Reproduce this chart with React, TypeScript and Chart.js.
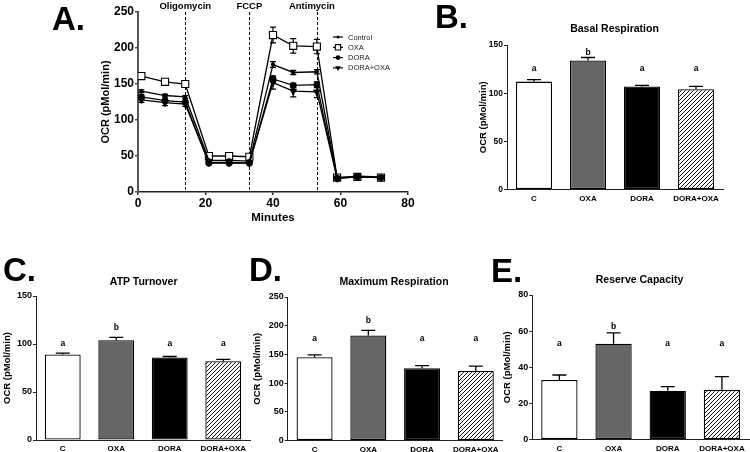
import React, { useEffect, useRef } from 'react';
import { Chart, registerables } from 'chart.js';

Chart.register(...registerables);

const FONT = '"Liberation Sans", Arial, Helvetica, sans-serif';
Chart.defaults.font.family = FONT;
Chart.defaults.color = '#000';

// ---------- Panel A data ----------
const minutes = [1, 8, 14, 21, 27, 33, 40, 46, 53, 59, 65, 72];
const seriesNames = ['Control', 'OXA', 'DORA', 'DORA+OXA'];
const controlOCR = [140, 134, 132, 44, 44, 43, 177, 166, 167, 20, 22, 21];
const controlErr = [2, 2, 2, 1, 1, 1, 4, 3, 3, 1, 1, 1];
const oxaOCR = [161, 153, 150, 50, 50, 49, 218, 203, 202, 20, 21, 20];
const oxaErr = [4, 3, 3, 1, 1, 1, 11, 10, 10, 1, 1, 1];
const doraOCR = [132, 127, 125, 40, 40, 40, 157, 148, 149, 19, 21, 20];
const doraErr = [3, 3, 2, 1, 1, 1, 4, 3, 4, 1, 1, 1];
const doraOxaOCR = [128, 124, 122, 41, 41, 40, 152, 140, 139, 19, 21, 20];
const doraOxaErr = [3.5, 4, 3, 1, 1, 1, 9, 8, 8, 1, 1, 1];
const injectionMinutes = [14, 33, 53];
const injectionLabels = ['Oligomycin', 'FCCP', 'Antimycin'];
const minuteMax = 80;
const minuteStep = 20;
const ocrMaxA = 250;
const ocrStepA = 50;

// ---------- Bar panels data ----------
const groups = ['C', 'OXA', 'DORA', 'DORA+OXA'];

const basalValues = [112, 134, 107, 104];
const basalErrors = [2, 3, 1, 3];
const basalLetters = ['a', 'b', 'a', 'a'];
const basalLetterY = [125, 142, 125, 125];

const atpValues = [89, 104, 86, 82];
const atpErrors = [1.5, 3, 1, 2];
const atpLetters = ['a', 'b', 'a', 'a'];
const atpLetterY = [100.5, 117, 100.5, 100.5];

const maxValues = [145, 183, 126, 121];
const maxErrors = [4, 9, 4.5, 8.5];
const maxLetters = ['a', 'b', 'a', 'a'];
const maxLetterY = [177, 209, 177, 177];

const reserveValues = [33, 53, 27, 27.5];
const reserveErrors = [2.7, 6, 2.3, 7.3];
const reserveLetters = ['a', 'b', 'a', 'a'];
const reserveLetterY = [53.2, 62.3, 53.2, 53.2];

// ---------- helpers ----------
type Style = 'circle' | 'rect' | 'triangleDown';
function drawMarker(ctx: CanvasRenderingContext2D, style: Style, x: number, y: number, r: number) {
  ctx.save();
  ctx.beginPath();
  if (style === 'circle') {
    ctx.arc(x, y, r, 0, Math.PI * 2);
    ctx.fillStyle = '#000';
    ctx.fill();
  } else if (style === 'rect') {
    const s = r * Math.SQRT1_2;
    ctx.rect(x - s, y - s, 2 * s, 2 * s);
    ctx.fillStyle = '#fff';
    ctx.fill();
    ctx.lineWidth = 1.1;
    ctx.strokeStyle = '#000';
    ctx.stroke();
  } else {
    ctx.moveTo(x - r * 0.87, y - r * 0.5);
    ctx.lineTo(x + r * 0.87, y - r * 0.5);
    ctx.lineTo(x, y + r);
    ctx.closePath();
    ctx.fillStyle = '#000';
    ctx.fill();
  }
  ctx.restore();
}

function makeHatch(): CanvasPattern | string {
  const c = document.createElement('canvas');
  c.width = 4;
  c.height = 4;
  const g = c.getContext('2d');
  if (!g) return '#888';
  g.fillStyle = '#fff';
  g.fillRect(0, 0, 4, 4);
  g.strokeStyle = '#111';
  g.lineWidth = 1;
  g.beginPath();
  g.moveTo(0, 4); g.lineTo(4, 0);
  g.moveTo(-1, 1); g.lineTo(1, -1);
  g.moveTo(3, 5); g.lineTo(5, 3);
  g.stroke();
  const p = g.createPattern(c, 'repeat');
  return p || '#888';
}

// ---------- Panel A ----------
const A_W = 420;
const A_H = 230;

function PanelA() {
  const ref = useRef<HTMLCanvasElement | null>(null);
  useEffect(() => {
    const canvas = ref.current;
    if (!canvas) return;
    const values = [controlOCR, oxaOCR, doraOCR, doraOxaOCR];
    const errors = [controlErr, oxaErr, doraErr, doraOxaErr];
    const styles: Style[] = ['circle', 'rect', 'circle', 'triangleDown'];
    const radii = [2, 5, 3.2, 4.2];
    const chartStyles = ['circle', 'rect', 'circle', 'triangle'];
    const drawOrder = [2, 3, 0, 1];

    const extras = {
      id: 'panelAExtras',
      beforeDatasetsDraw(chart: any) {
        const { ctx, chartArea, scales } = chart;
        const x = scales.x;
        const y = scales.y;
        ctx.save();
        ctx.setLineDash([3, 2]);
        ctx.strokeStyle = '#000';
        ctx.lineWidth = 1;
        injectionMinutes.forEach((m) => {
          const px = Math.round(x.getPixelForValue(m)) + 0.5;
          ctx.beginPath();
          ctx.moveTo(px, chartArea.top);
          ctx.lineTo(px, chartArea.bottom);
          ctx.stroke();
        });
        ctx.setLineDash([]);
        ctx.lineWidth = 1.2;
        values.forEach((vals, di) => {
          vals.forEach((v, i) => {
            const e = errors[di][i];
            const px = x.getPixelForValue(minutes[i]);
            const y1 = y.getPixelForValue(v + e);
            const y2 = y.getPixelForValue(v - e);
            ctx.beginPath();
            ctx.moveTo(px, y1);
            ctx.lineTo(px, y2);
            ctx.moveTo(px - 3, y1);
            ctx.lineTo(px + 3, y1);
            ctx.moveTo(px - 3, y2);
            ctx.lineTo(px + 3, y2);
            ctx.stroke();
          });
        });
        ctx.restore();
      },
      afterDraw(chart: any) {
        const { ctx, scales } = chart;
        const x = scales.x;
        ctx.save();
        ctx.fillStyle = '#000';
        ctx.font = `bold 9.5px ${FONT}`;
        ctx.textAlign = 'center';
        ctx.textBaseline = 'middle';
        const nudges = [0, 0, -5];
        injectionMinutes.forEach((m, i) => {
          ctx.fillText(injectionLabels[i], x.getPixelForValue(m) + nudges[i], 6);
        });
        // legend
        const ly0 = 37;
        const lgap = 10.3;
        ctx.font = `7.5px ${FONT}`;
        ctx.textAlign = 'left';
        seriesNames.forEach((name, i) => {
          const yy = ly0 + i * lgap;
          ctx.strokeStyle = '#000';
          ctx.lineWidth = 1.2;
          ctx.beginPath();
          ctx.moveTo(333, yy);
          ctx.lineTo(343, yy);
          ctx.stroke();
          drawMarker(ctx, styles[i], 338, yy, radii[i] * 0.75);
          ctx.fillStyle = '#222';
          ctx.fillText(name, 348, yy + 0.5);
        });
        ctx.restore();
      },
    };

    const chart = new Chart(canvas, {
      type: 'line',
      data: {
        datasets: values.map((vals, di) => ({
          label: seriesNames[di],
          data: vals.map((v, i) => ({ x: minutes[i], y: v })),
          order: drawOrder[di],
          borderColor: '#000',
          borderWidth: 1.3,
          pointStyle: chartStyles[di] as any,
          pointRadius: radii[di],
          pointRotation: di === 3 ? 180 : 0,
          pointBackgroundColor: di === 1 ? '#fff' : '#000',
          pointBorderColor: '#000',
          pointBorderWidth: di === 1 ? 1.1 : 0.5,
          tension: 0,
          fill: false,
        })),
      },
      options: {
        responsive: false,
        animation: false,
        devicePixelRatio: 1,
        layout: { autoPadding: false, padding: { left: 0, top: 12, right: A_W - 408, bottom: 0 } } as any,
        plugins: { legend: { display: false }, tooltip: { enabled: false }, title: { display: false } },
        scales: {
          x: {
            type: 'linear',
            min: 0,
            max: minuteMax,
            ticks: { stepSize: minuteStep, font: { size: 12, weight: 'bold' }, color: '#000', padding: 1 },
            grid: { drawOnChartArea: false, drawTicks: true, tickLength: 3, color: '#222', lineWidth: 1.5 },
            border: { display: true, color: '#222', width: 1.5 },
            title: { display: true, text: 'Minutes', font: { size: 11.5, weight: 'bold' }, color: '#000', padding: { top: 0, bottom: 5.5 } },
            afterFit: (s: any) => { s.height = A_H - 192; },
          },
          y: {
            min: 0,
            max: ocrMaxA,
            ticks: { stepSize: ocrStepA, font: { size: 12, weight: 'bold' }, color: '#000', padding: 1 },
            grid: { drawOnChartArea: false, drawTicks: true, tickLength: 3, color: '#444', lineWidth: 1.5 },
            border: { display: true, color: '#555', width: 2 },
            title: { display: true, text: 'OCR (pMol/min)', font: { size: 11, weight: 'bold' }, color: '#000', padding: { top: 99.4, bottom: 0 } },
            afterFit: (s: any) => { s.width = 138; },
          },
        },
      } as any,
      plugins: [extras],
    });
    return () => chart.destroy();
  }, []);
  return (
    <canvas
      ref={ref}
      width={A_W}
      height={A_H}
      style={{ position: 'absolute', left: 0, top: 0, width: A_W, height: A_H }}
    />
  );
}

// ---------- Bar panels ----------
type BarPanelProps = {
  left: number;
  top: number;
  width: number;
  height: number;
  area: { left: number; top: number; right: number; bottom: number };
  yMax: number;
  yStep: number;
  values: number[];
  errors: number[];
  letters: string[];
  letterY: number[];
  yTitleX: number;
  tickSize: number;
};

function BarPanel(p: BarPanelProps) {
  const ref = useRef<HTMLCanvasElement | null>(null);
  useEffect(() => {
    const canvas = ref.current;
    if (!canvas) return;
    const hatch = makeHatch();
    const extras = {
      id: 'barExtras',
      afterDatasetsDraw(chart: any) {
        const { ctx, scales } = chart;
        const y = scales.y;
        const meta = chart.getDatasetMeta(0);
        ctx.save();
        ctx.strokeStyle = '#000';
        ctx.lineWidth = 1.3;
        meta.data.forEach((bar: any, i: number) => {
          const top = y.getPixelForValue(p.values[i]);
          const et = y.getPixelForValue(p.values[i] + p.errors[i]);
          ctx.beginPath();
          ctx.moveTo(bar.x, top);
          ctx.lineTo(bar.x, et);
          ctx.moveTo(bar.x - 7, et);
          ctx.lineTo(bar.x + 7, et);
          ctx.stroke();
        });
        ctx.fillStyle = '#000';
        ctx.font = `bold 8.5px ${FONT}`;
        ctx.textAlign = 'center';
        ctx.textBaseline = 'middle';
        meta.data.forEach((bar: any, i: number) => {
          ctx.fillText(p.letters[i], bar.x, y.getPixelForValue(p.letterY[i]));
        });
        ctx.restore();
      },
    };
    const chart = new Chart(canvas, {
      type: 'bar',
      data: {
        labels: groups,
        datasets: [
          {
            data: p.values,
            backgroundColor: ['#ffffff', '#666666', '#000000', hatch] as any,
            borderColor: '#000',
            borderWidth: 1.3,
            borderSkipped: false,
            barPercentage: 0.67,
            categoryPercentage: 1,
          },
        ],
      },
      options: {
        responsive: false,
        animation: false,
        devicePixelRatio: 1,
        layout: {
          autoPadding: false,
          padding: { left: 0, top: p.area.top, right: p.width - p.area.right, bottom: 0 },
        } as any,
        plugins: { legend: { display: false }, tooltip: { enabled: false }, title: { display: false } },
        scales: {
          x: {
            ticks: { font: { size: 8, weight: 'bold' }, color: '#000', padding: 4, maxRotation: 0, autoSkip: false },
            grid: { display: true, drawOnChartArea: false, drawTicks: false },
            border: { display: true, color: '#222', width: 1 },
            afterFit: (s: any) => { s.height = p.height - p.area.bottom; },
          },
          y: {
            min: 0,
            max: p.yMax,
            ticks: { stepSize: p.yStep, font: { size: p.tickSize, weight: 'bold' }, color: '#000', padding: 1 },
            grid: { drawOnChartArea: false, drawTicks: true, tickLength: 3, color: '#222', lineWidth: 1 },
            border: { display: true, color: '#222', width: 1 },
            title: {
              display: true,
              text: 'OCR (pMol/min)',
              font: { size: 9.5, weight: 'bold' },
              color: '#000',
              padding: { top: p.yTitleX - 5.7, bottom: 0 },
            },
            afterFit: (s: any) => { s.width = p.area.left; },
          },
        },
      } as any,
      plugins: [extras],
    });
    return () => chart.destroy();
  }, []);
  return (
    <canvas
      ref={ref}
      width={p.width}
      height={p.height}
      style={{ position: 'absolute', left: p.left, top: p.top, width: p.width, height: p.height }}
    />
  );
}

function BigLetter({ text, left, baseline }: { text: string; left: number; baseline: number }) {
  const size = 33;
  return (
    <div
      style={{
        position: 'absolute',
        left,
        top: baseline - 0.8465 * size,
        fontFamily: FONT,
        fontWeight: 700,
        fontSize: size,
        lineHeight: `${size}px`,
        color: '#000',
        whiteSpace: 'nowrap',
      }}
    >
      {text}
    </div>
  );
}

function PanelTitle({ text, cx, cy }: { text: string; cx: number; cy: number }) {
  return (
    <div
      style={{
        position: 'absolute',
        left: cx,
        top: cy,
        transform: 'translate(-50%, -50%)',
        fontFamily: FONT,
        fontWeight: 700,
        fontSize: 10.5,
        lineHeight: 1,
        color: '#000',
        whiteSpace: 'nowrap',
      }}
    >
      {text}
    </div>
  );
}

export default function App() {
  return (
    <div
      style={{
        position: 'absolute',
        left: 0,
        top: 0,
        width: 750,
        height: 452,
        background: '#fff',
        overflow: 'hidden',
      }}
    >
      <PanelA />
      <BarPanel
        left={420} top={0} width={330} height={230}
        area={{ left: 87, top: 45, right: 303, bottom: 189.5 }}
        yMax={150} yStep={50}
        values={basalValues} errors={basalErrors} letters={basalLetters} letterY={basalLetterY}
        yTitleX={63} tickSize={8.5}
      />
      <BarPanel
        left={0} top={250} width={252} height={202}
        area={{ left: 36, top: 46, right: 250, bottom: 190 }}
        yMax={150} yStep={50}
        values={atpValues} errors={atpErrors} letters={atpLetters} letterY={atpLetterY}
        yTitleX={7} tickSize={9}
      />
      <BarPanel
        left={250} top={250} width={255} height={202}
        area={{ left: 37.7, top: 47, right: 252.7, bottom: 190.5 }}
        yMax={250} yStep={50}
        values={maxValues} errors={maxErrors} letters={maxLetters} letterY={maxLetterY}
        yTitleX={7} tickSize={9}
      />
      <BarPanel
        left={500} top={250} width={250} height={202}
        area={{ left: 32.3, top: 45, right: 249, bottom: 189.5 }}
        yMax={80} yStep={20}
        values={reserveValues} errors={reserveErrors} letters={reserveLetters} letterY={reserveLetterY}
        yTitleX={7} tickSize={9}
      />
      <BigLetter text="A." left={52} baseline={30} />
      <BigLetter text="B." left={435} baseline={28} />
      <BigLetter text="C." left={3} baseline={281} />
      <BigLetter text="D." left={249} baseline={281} />
      <BigLetter text="E." left={491} baseline={282} />
      <PanelTitle text="Basal Respiration" cx={614.5} cy={28} />
      <PanelTitle text="ATP Turnover" cx={143.7} cy={281} />
      <PanelTitle text="Maximum Respiration" cx={394} cy={281} />
      <PanelTitle text="Reserve Capacity" cx={639.5} cy={279} />
    </div>
  );
}
